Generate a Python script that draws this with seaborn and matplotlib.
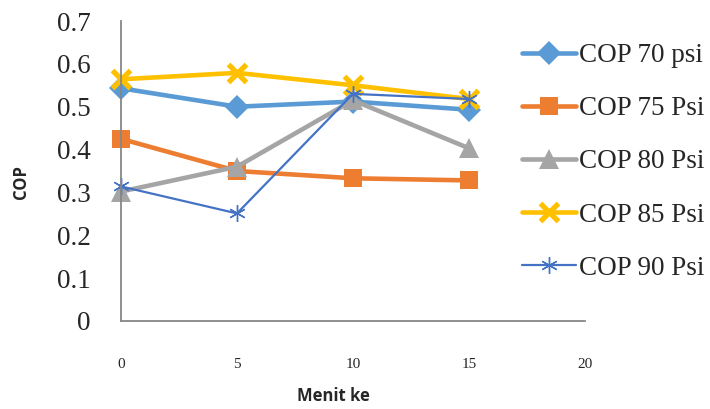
import numpy as np
import pandas as pd
import seaborn as sns
import matplotlib.pyplot as plt

minutes = [0, 5, 10, 15]
cop_70 = [0.543, 0.500, 0.512, 0.493]
cop_75 = [0.425, 0.350, 0.333, 0.328]
cop_80 = [0.302, 0.360, 0.515, 0.403]
cop_85 = [0.564, 0.579, 0.550, 0.518]
cop_90 = [0.314, 0.251, 0.530, 0.518]

labels = ["COP 70 psi", "COP 75 Psi", "COP 80 Psi", "COP 85 Psi", "COP 90 Psi"]
x_ticks = [0, 5, 10, 15, 20]
y_ticks = [0, 0.1, 0.2, 0.3, 0.4, 0.5, 0.6, 0.7]

series = [cop_70, cop_75, cop_80, cop_85, cop_90]
colors = ["#5B9BD5", "#ED7D31", "#A5A5A5", "#FFC000", "#4472C4"]
styles = [
    dict(marker="D", markersize=12.5, lw=3.3, mew=0),
    dict(marker="s", markersize=13.5, lw=3.3, mew=0),
    dict(marker="^", markersize=15, lw=3.3, mew=0),
    dict(marker="x", markersize=12.5, lw=3.3, mew=3.8),
    dict(marker=(6, 2, 0), markersize=12, lw=1.6, mew=1.0),
]

sns.set_style("white")
serif = ["Liberation Serif", "DejaVu Serif"]
sans = ["Open Sans", "DejaVu Sans"]

fig = plt.figure(figsize=(7.1, 4.09), dpi=100)
ax = fig.add_axes([121 / 710, 1 - 321 / 409, (585 - 121) / 710, 300 / 409])

for vals, lab, col, st in zip(series, labels, colors, styles):
    df = pd.DataFrame({"Menit ke": minutes, "COP": vals})
    sns.lineplot(data=df, x="Menit ke", y="COP", ax=ax, color=col, label=lab,
                 marker=st["marker"], markersize=st["markersize"], linewidth=st["lw"],
                 markeredgewidth=st["mew"], markeredgecolor=col, markerfacecolor=col,
                 clip_on=False)

ax.set_xlim(0, 20)
ax.set_ylim(0, 0.7)
ax.set_xticks(x_ticks)
ax.set_yticks(y_ticks)
ax.set_xticklabels([str(v) for v in x_ticks], fontfamily=serif, fontsize=11)
ax.set_yticklabels([f"{v:g}" for v in y_ticks], fontfamily=serif, fontsize=19.5)
ax.tick_params(axis="y", length=0, pad=22)
ax.tick_params(axis="x", length=0, pad=27)

for side in ["top", "right"]:
    ax.spines[side].set_visible(False)
for side in ["left", "bottom"]:
    ax.spines[side].set_color("#878787")
    ax.spines[side].set_linewidth(1.3)

ax.set_xlabel("Menit ke", fontsize=12, fontweight="bold", fontfamily=sans)
ax.set_ylabel("COP", fontsize=12, fontweight="bold", fontfamily=sans)
ax.xaxis.set_label_coords((333 - 121) / 464, -(387 - 321) / 300)
ax.yaxis.set_label_coords(-(121 - 30) / 464, (321 - 182) / 300)

leg = ax.legend(loc="upper left", bbox_to_anchor=(522 / 710, 1 - 43 / 409),
                bbox_transform=fig.transFigure, frameon=False,
                prop={"family": serif, "size": 19.5}, labelspacing=1.04,
                handlelength=2.0, handletextpad=0.1, borderpad=0, borderaxespad=0)

fig.savefig("out.png", dpi=100)
